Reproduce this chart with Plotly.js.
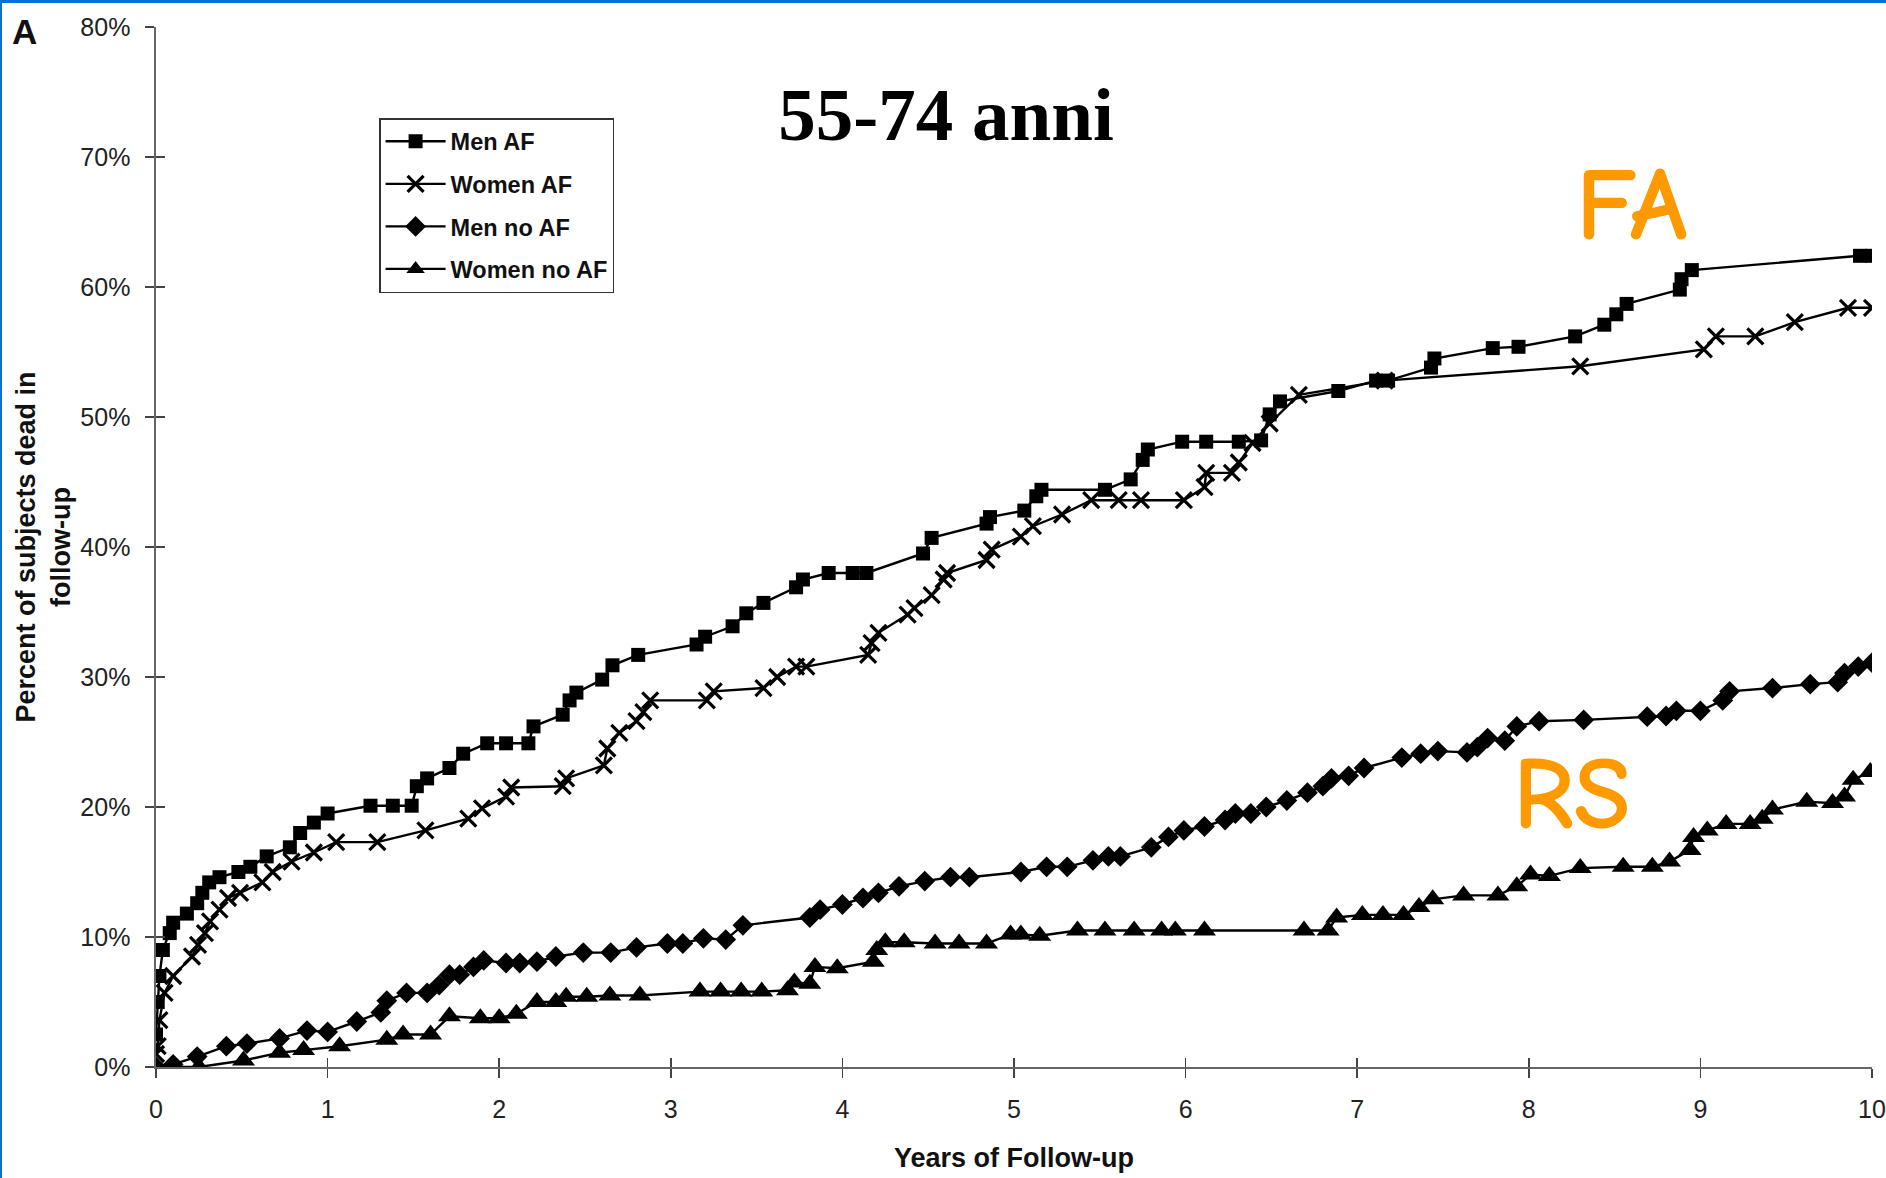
<!DOCTYPE html>
<html>
<head>
<meta charset="utf-8">
<script src="https://cdn.plot.ly/plotly-3.0.1.min.js"></script>
<style>
  html, body { margin: 0; padding: 0; background: #fff; }
  #chart { width: 1886px; height: 1178px; }
  #frame { position: absolute; left: 0; top: 0; width: 1884px; height: 1175px;
           border-top: 3px solid #0b6fd3; border-left: 2px solid #0b6fd3; pointer-events: none; }
</style>
</head>
<body>
<div id="chart"></div>
<div id="frame"></div>
<script>
// ---- Data ----
const seriesNames = ["Men AF", "Women AF", "Men no AF", "Women no AF"];

const menAF_x = [0, 0.01, 0.02, 0.04, 0.08, 0.10, 0.18, 0.24, 0.27, 0.31, 0.37, 0.48, 0.55, 0.645, 0.78, 0.84, 0.92, 1.0,
  1.25, 1.38, 1.49, 1.52, 1.58, 1.71, 1.79, 1.93, 2.04, 2.17, 2.20, 2.37, 2.41, 2.45, 2.60, 2.66, 2.81, 3.15, 3.20,
  3.36, 3.44, 3.54, 3.73, 3.77, 3.92, 4.06, 4.14, 4.47, 4.52, 4.84, 4.86, 5.06, 5.13, 5.16, 5.53, 5.68, 5.75, 5.78,
  5.98, 6.12, 6.31, 6.44, 6.49, 6.55, 6.89, 7.11, 7.18, 7.43, 7.45, 7.79, 7.94, 8.27, 8.44, 8.51, 8.57, 8.88, 8.89,
  8.95, 9.93, 10.0];
const menAF_y = [2.5, 5, 7, 9, 10.3, 11.1, 11.8, 12.6, 13.4, 14.2, 14.6, 15.0, 15.4, 16.2, 16.9, 18.0, 18.8, 19.5,
  20.1, 20.1, 20.1, 21.6, 22.2, 23.0, 24.1, 24.9, 24.9, 24.9, 26.2, 27.1, 28.2, 28.8, 29.8, 30.9, 31.7, 32.5, 33.1,
  33.9, 34.9, 35.7, 36.9, 37.5, 38.0, 38.0, 38.0, 39.5, 40.7, 41.8, 42.3, 42.8, 43.9, 44.4, 44.4, 45.2, 46.7, 47.5,
  48.1, 48.1, 48.1, 48.2, 50.2, 51.2, 52.0, 52.8, 52.8, 53.8, 54.5, 55.3, 55.4, 56.2, 57.1, 57.9, 58.7, 59.8, 60.6,
  61.3, 62.4, 62.4];

const womenAF_x = [0, 0.01, 0.02, 0.05, 0.10, 0.21, 0.245, 0.285, 0.315, 0.37, 0.42, 0.49, 0.62, 0.68, 0.79, 0.92, 1.05,
  1.29, 1.57, 1.82, 1.90, 2.04, 2.07, 2.37, 2.39, 2.61, 2.63, 2.70, 2.80, 2.84, 2.88, 3.21, 3.25, 3.54, 3.62, 3.73,
  3.79, 4.15, 4.17, 4.21, 4.38, 4.42, 4.52, 4.59, 4.61, 4.84, 4.87, 5.04, 5.11, 5.28, 5.45, 5.61, 5.74, 5.99, 6.11,
  6.12, 6.27, 6.31, 6.39, 6.49, 6.66, 7.16, 8.30, 9.02, 9.09, 9.32, 9.55, 9.86, 10.0];
const womenAF_y = [1.0, 1.6, 3.6, 5.7, 7.0, 8.5, 9.4, 10.3, 11.2, 12.1, 13.0, 13.4, 14.2, 15.0, 15.8, 16.5, 17.3,
  17.3, 18.2, 19.1, 19.9, 20.8, 21.5, 21.6, 22.2, 23.2, 24.5, 25.7, 26.6, 27.3, 28.2, 28.2, 28.9, 29.15, 30.0, 30.8,
  30.8, 31.7, 32.6, 33.4, 34.8, 35.3, 36.3, 37.5, 38.0, 39.0, 39.8, 40.8, 41.6, 42.5, 43.6, 43.6, 43.6, 43.6, 44.6,
  45.7, 45.7, 46.5, 48.0, 49.5, 51.7, 52.8, 53.9, 55.2, 56.2, 56.2, 57.3, 58.4, 58.4];

const menNoAF_x = [0, 0.10, 0.24, 0.41, 0.53, 0.72, 0.88, 1.0, 1.17, 1.31, 1.345, 1.46, 1.58, 1.65, 1.71, 1.77, 1.85,
  1.91, 2.04, 2.12, 2.22, 2.33, 2.49, 2.65, 2.80, 2.98, 3.07, 3.19, 3.32, 3.42, 3.81, 3.87, 4.0, 4.12, 4.21, 4.33,
  4.48, 4.63, 4.74, 5.04, 5.19, 5.31, 5.46, 5.55, 5.62, 5.80, 5.90, 5.99, 6.11, 6.23, 6.29, 6.38, 6.47, 6.59, 6.71,
  6.80, 6.85, 6.95, 7.04, 7.26, 7.37, 7.47, 7.64, 7.70, 7.76, 7.86, 7.93, 8.06, 8.32, 8.69, 8.80, 8.86, 9.0, 9.13,
  9.17, 9.42, 9.64, 9.80, 9.84, 9.92, 10.0];
const menNoAF_y = [0, 0.2, 0.8, 1.6, 1.8, 2.2, 2.8, 2.7, 3.5, 4.2, 5.1, 5.7, 5.7, 6.3, 7.1, 7.1, 7.7,
  8.2, 8.0, 8.0, 8.1, 8.5, 8.8, 8.8, 9.2, 9.5, 9.5, 9.9, 9.8, 10.9, 11.5, 12.1, 12.5, 13.0, 13.4, 13.9,
  14.3, 14.6, 14.6, 15.0, 15.4, 15.4, 15.9, 16.2, 16.2, 16.9, 17.7, 18.2, 18.5, 19.0, 19.5, 19.5, 20.0, 20.5, 21.1,
  21.6, 22.2, 22.4, 23.0, 23.8, 24.1, 24.3, 24.2, 24.6, 25.3, 25.1, 26.2, 26.6, 26.7, 26.95, 27.0, 27.4, 27.4, 28.2,
  28.9, 29.15, 29.45, 29.6, 30.3, 30.8, 31.1];

const womenNoAF_x = [0, 0.25, 0.51, 0.72, 0.86, 1.07, 1.345, 1.44, 1.60, 1.71, 1.89, 2.0, 2.10, 2.22, 2.33, 2.39, 2.51,
  2.645, 2.82, 3.17, 3.29, 3.41, 3.53, 3.68, 3.72, 3.81, 3.84, 3.97, 4.18, 4.20, 4.25, 4.36, 4.54, 4.68, 4.84, 4.98,
  5.04, 5.15, 5.37, 5.53, 5.70, 5.86, 5.94, 6.11, 6.69, 6.83, 6.88, 7.03, 7.15, 7.27, 7.36, 7.44, 7.62, 7.82, 7.93,
  8.01, 8.12, 8.30, 8.55, 8.72, 8.82, 8.94, 8.96, 9.04, 9.15, 9.29, 9.36, 9.42, 9.62, 9.77, 9.84, 9.89, 9.99];
const womenNoAF_y = [0, 0, 0.5, 1.1, 1.3, 1.6, 2.1, 2.5, 2.5, 3.9, 3.75, 3.75, 4.1, 5.0, 5.0, 5.4, 5.4,
  5.5, 5.5, 5.8, 5.8, 5.8, 5.8, 5.9, 6.5, 6.4, 7.7, 7.6, 8.1, 9.0, 9.6, 9.6, 9.5, 9.5, 9.5, 10.2,
  10.2, 10.1, 10.5, 10.5, 10.5, 10.5, 10.5, 10.5, 10.5, 10.5, 11.5, 11.7, 11.7, 11.7, 12.3, 12.9, 13.2, 13.2, 13.9,
  14.8, 14.7, 15.3, 15.4, 15.4, 15.8, 16.7, 17.7, 18.2, 18.7, 18.7, 19.1, 19.8, 20.4, 20.3, 20.8, 22.1, 22.7];

const xTickVals = [0, 1, 2, 3, 4, 5, 6, 7, 8, 9, 10];
const xTickText = ["0", "1", "2", "3", "4", "5", "6", "7", "8", "9", "10"];
const yTickVals = [0, 10, 20, 30, 40, 50, 60, 70, 80];
const yTickText = ["0%", "10%", "20%", "30%", "40%", "50%", "60%", "70%", "80%"];

const chartTitle = "55-74 anni";
const xTitle = "Years of Follow-up";
const yTitle = "Percent of subjects dead in<br>follow-up";
const panelLabel = "A";
const groupLabels = [{ text: "FA", x: 8.6, y: 66.3 }, { text: "RS", x: 8.25, y: 21.0 }];

// ---- Styling ----
const tickFont = { family: "'Liberation Sans Narrow', 'Liberation Sans', Arial, sans-serif", size: 25, color: "#222" };
const xTitleFont = { family: "'Liberation Sans', Arial, sans-serif", size: 27, color: "#111", weight: "bold" };
const yTitleFont = { family: "'Liberation Sans', Arial, sans-serif", size: 27, color: "#111", weight: "bold" };

function mk(name, xs, ys, marker, lg) {
  return {
    type: "scatter", mode: "lines+markers", name: name, x: xs, y: ys,
    legendgroup: lg,
    line: { color: "#000", width: 2.4 },
    marker: marker,
    hoverinfo: "x+y+name"
  };
}

const traces = [
  mk(seriesNames[0], menAF_x, menAF_y, { symbol: "square", size: 14, color: "#000" }, "g1"),
  mk(seriesNames[1], womenAF_x, womenAF_y, { symbol: "x-thin-open", size: 16, color: "#000", line: { color: "#000", width: 3.2 } }, "g2"),
  mk(seriesNames[2], menNoAF_x, menNoAF_y, { symbol: "diamond", size: 16, color: "#000" }, "g3"),
  mk(seriesNames[3], womenNoAF_x, womenNoAF_y, { symbol: "triangle-up", size: 20, color: "#000" }, "g4"),
  // empty helper trace so the overlay axes (inside ticks) get drawn
  { type: "scatter", x: [], y: [], xaxis: "x2", yaxis: "y2", showlegend: false, hoverinfo: "skip" }
];

const axisCommon = {
  showgrid: false, zeroline: false, showline: true,
  linecolor: "#666", linewidth: 1.6,
  tickcolor: "#444", tickwidth: 1.5
};

const layout = {
  width: 1886, height: 1178,
  paper_bgcolor: "#fff", plot_bgcolor: "#fff",
  margin: { l: 156, r: 14, t: 27, b: 111 },
  showlegend: true,
  title: {
    text: chartTitle,
    font: { family: "'Liberation Serif', 'Times New Roman', serif", size: 75, color: "#000", weight: "bold" },
    xref: "container", x: 946 / 1886, xanchor: "center",
    yref: "container", y: 1 - 114 / 1178, yanchor: "middle"
  },
  xaxis: Object.assign({}, axisCommon, {
    range: [0, 10], tickmode: "array", tickvals: xTickVals, ticktext: xTickText,
    ticks: "outside", ticklen: 9, tickfont: tickFont, ticklabelstandoff: 10,
    title: { text: xTitle, font: xTitleFont, standoff: 26 },
    automargin: false
  }),
  yaxis: Object.assign({}, axisCommon, {
    range: [0, 80], tickmode: "array", tickvals: yTickVals, ticktext: yTickText,
    ticks: "outside", ticklen: 9, tickfont: tickFont, ticklabelstandoff: 10,
    title: { text: yTitle, font: yTitleFont, standoff: 2 },
    automargin: false
  }),
  xaxis2: Object.assign({}, axisCommon, {
    overlaying: "x", anchor: "y2", range: [0, 10], tickmode: "array", tickvals: xTickVals,
    ticks: "inside", ticklen: 9, showticklabels: false, showline: false
  }),
  yaxis2: Object.assign({}, axisCommon, {
    overlaying: "y", anchor: "x2", range: [0, 80], tickmode: "array", tickvals: yTickVals,
    ticks: "inside", ticklen: 9, showticklabels: false, showline: false
  }),
  legend: {
    x: 0.13, y: 0.9125, xanchor: "left", yanchor: "top",
    bgcolor: "#fff", bordercolor: "#333", borderwidth: 1.5,
    font: { family: "'Liberation Sans', Arial, sans-serif", size: 23.5, color: "#111", weight: "bold" },
    itemwidth: 60, tracegroupgap: 9, itemsizing: "trace"
  },
  annotations: [
    {
      text: panelLabel, xref: "paper", yref: "paper", x: -0.0765, y: 0.996,
      xanchor: "center", yanchor: "middle", showarrow: false,
      font: { family: "'Liberation Sans', Arial, sans-serif", size: 35, color: "#111", weight: "bold" }
    }
  ].concat(groupLabels.map(g => ({
    text: g.text, xref: "x", yref: "y", x: g.x, y: g.y,
    xanchor: "center", yanchor: "middle", showarrow: false,
    font: { family: "'Comic Sans MS', 'Comic Neue', 'DejaVu Sans', sans-serif", size: 104, color: "#FF9900", weight: "bold" }
  })))
};

Plotly.newPlot("chart", traces, layout, { displayModeBar: false, staticPlot: true });
</script>
</body>
</html>
